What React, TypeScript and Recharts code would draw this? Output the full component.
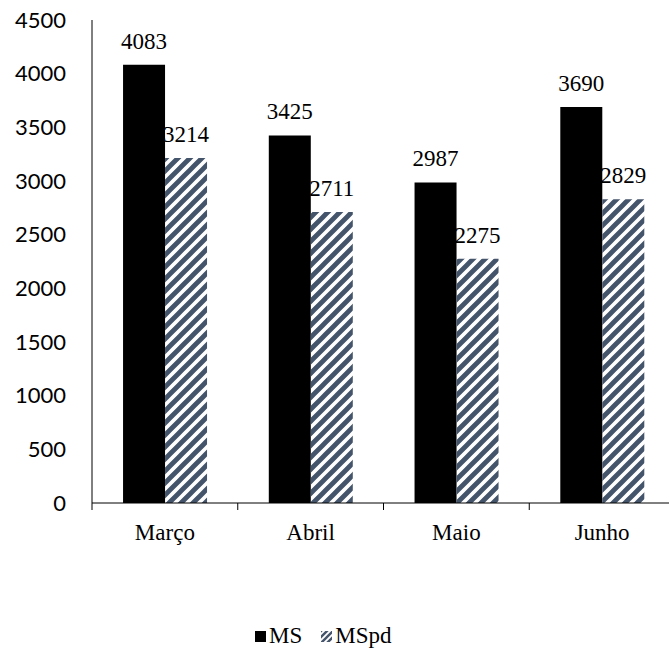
import { BarChart, Bar, XAxis, YAxis, Legend, LabelList } from 'recharts';

const months = ['Março', 'Abril', 'Maio', 'Junho'];
const msValues = [4083, 3425, 2987, 3690];
const mspdValues = [3214, 2711, 2275, 2829];
const yTicks = [0, 500, 1000, 1500, 2000, 2500, 3000, 3500, 4000, 4500];

const HATCH = '#44546A';
const SERIF = "'Liberation Serif', 'DejaVu Serif', serif";
const SANS = "Lato, 'Open Sans', sans-serif";

const chartData = months.map((month, i) => ({
  month,
  MS: msValues[i],
  MSpd: mspdValues[i],
}));

// category labels centred in each band, with small tick marks on the band edges
const CategoryTick = (props: any) => {
  const { x, y, payload, index, visibleTicksCount } = props;
  const half = payload.offset || 0;
  const isLast = index === visibleTicksCount - 1;
  return (
    <g>
      <line x1={x - half} x2={x - half} y1={y} y2={y + 7} stroke="#000" strokeWidth={1} />
      {isLast && <line x1={x + half} x2={x + half} y1={y} y2={y + 7} stroke="#000" strokeWidth={1} />}
      <text x={x} y={y + 37} textAnchor="middle" style={{ fontFamily: SERIF, fontSize: 23 }} fill="#000">
        {payload.value}
      </text>
    </g>
  );
};

const HatchSwatch = () => (
  <svg width={11} height={11} style={{ display: 'block' }}>
    <defs>
      <pattern id="hatchLegend" patternUnits="userSpaceOnUse" width={6} height={6}>
        <path d="M0,6 L6,0 M-1.5,1.5 L1.5,-1.5 M4.5,7.5 L7.5,4.5" stroke={HATCH} strokeWidth={2.4} />
      </pattern>
    </defs>
    <rect width={11} height={11} fill="url(#hatchLegend)" />
  </svg>
);

const renderLegend = () => (
  <div
    style={{
      display: 'flex',
      alignItems: 'center',
      fontFamily: SERIF,
      fontSize: 23,
      lineHeight: '24px',
      color: '#000',
    }}
  >
    <span style={{ width: 11, height: 11, background: '#000', display: 'block', marginRight: 3 }} />
    <span>MS</span>
    <span style={{ marginLeft: 19, marginRight: 3 }}>
      <HatchSwatch />
    </span>
    <span>MSpd</span>
  </div>
);

const labelStyle = { fontFamily: SERIF, fontSize: 23 };

const App = () => {
  return (
    <div style={{ position: 'absolute', left: 0, top: 0, width: 669, height: 653, overflow: 'hidden', background: '#fff' }}>
      <BarChart
        width={690}
        height={653}
        data={chartData}
        margin={{ top: 20, right: 15, left: 0, bottom: 90 }}
        barCategoryGap="21.3%"
        barGap={0}
      >
        <defs>
          <pattern id="hatchBars" patternUnits="userSpaceOnUse" width={12} height={12}>
            <path d="M0,12 L12,0 M-3,3 L3,-3 M9,15 L15,9" stroke={HATCH} strokeWidth={4.8} />
          </pattern>
        </defs>
        <XAxis
          dataKey="month"
          height={60}
          axisLine={{ stroke: '#000', strokeWidth: 1 }}
          tickLine={false}
          tickSize={0}
          tickMargin={0}
          tick={<CategoryTick />}
          interval={0}
        />
        <YAxis
          width={92}
          domain={[0, 4500]}
          ticks={yTicks}
          interval={0}
          axisLine={{ stroke: '#000', strokeWidth: 1 }}
          tickLine={false}
          tickSize={0}
          tickMargin={26}
          tick={{ fill: '#000', style: { fontFamily: SANS, fontSize: 22 } }}
        />
        <Legend
          layout="horizontal"
          verticalAlign="middle"
          align="center"
          content={renderLegend}
          wrapperStyle={{ left: 255, top: 624, width: 220 }}
        />
        <Bar dataKey="MS" fill="#000" isAnimationActive={false}>
          <LabelList dataKey="MS" position="top" offset={16} fill="#000" style={labelStyle} />
        </Bar>
        <Bar dataKey="MSpd" fill="url(#hatchBars)" isAnimationActive={false}>
          <LabelList dataKey="MSpd" position="top" offset={16} fill="#000" style={labelStyle} />
        </Bar>
      </BarChart>
    </div>
  );
};

export default App;
